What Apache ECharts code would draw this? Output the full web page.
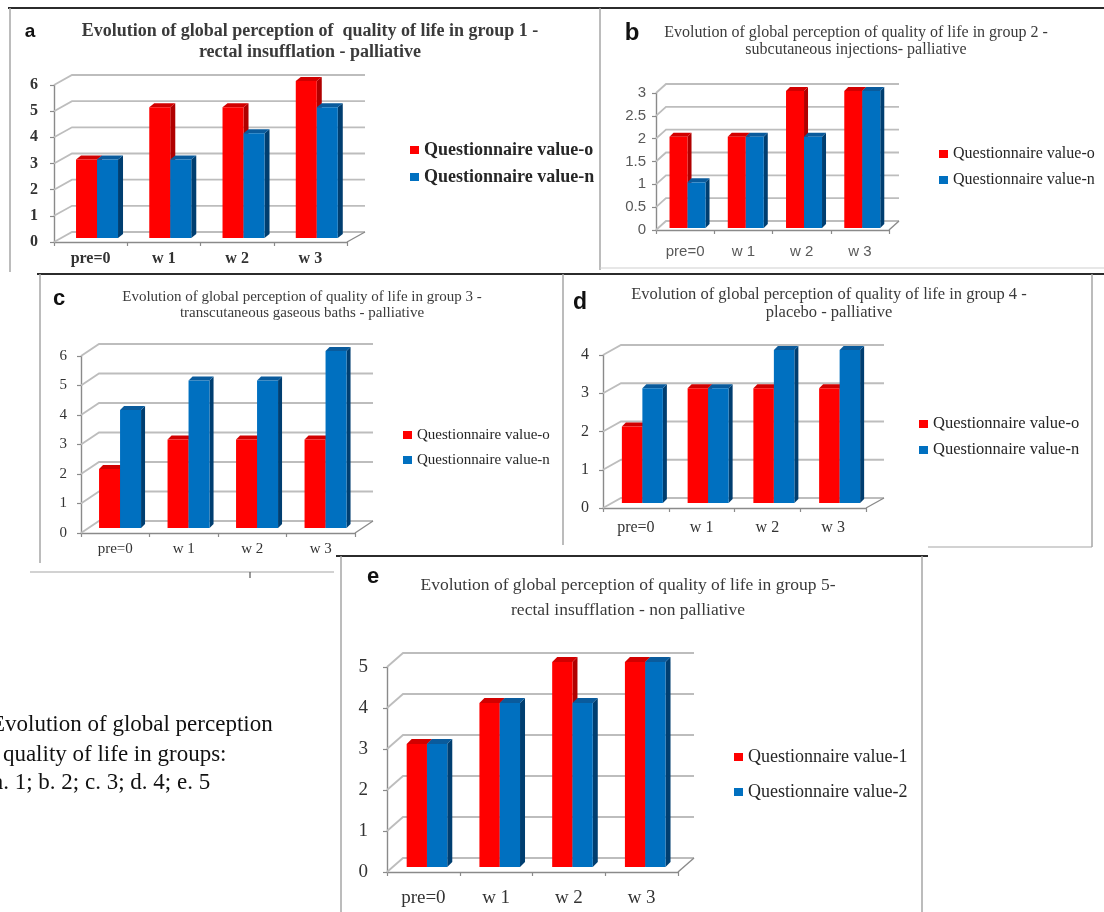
<!DOCTYPE html>
<html>
<head>
<meta charset="utf-8">
<title>Evolution of global perception of quality of life</title>
<script src="https://cdn.jsdelivr.net/npm/echarts@6/dist/echarts.min.js"></script>
<style>
  html, body { margin: 0; padding: 0; background: #fff; }
  #chart { width: 1104px; height: 912px; }
</style>
</head>
<body>
<div id="chart"></div>
<script>
// ---- data ----
const categories = ['pre=0', 'w 1', 'w 2', 'w 3'];

const group1ValueO = [3, 5, 5, 6];
const group1ValueN = [3, 3, 4, 5];
const group2ValueO = [2, 2, 3, 3];
const group2ValueN = [1, 2, 2, 3];
const group3ValueO = [2, 3, 3, 3];
const group3ValueN = [4, 5, 5, 6];
const group4ValueO = [2, 3, 3, 3];
const group4ValueN = [3, 3, 4, 4];
const group5Value1 = [3, 4, 5, 5];
const group5Value2 = [3, 4, 4, 5];

const namesPalliative = ['Questionnaire value-o', 'Questionnaire value-n'];
const namesGroup5 = ['Questionnaire value-1', 'Questionnaire value-2'];

const yTicks1 = [0, 1, 2, 3, 4, 5, 6];
const yTicks2 = [0, 0.5, 1, 1.5, 2, 2.5, 3];
const yTicks3 = [0, 1, 2, 3, 4, 5, 6];
const yTicks4 = [0, 1, 2, 3, 4];
const yTicks5 = [0, 1, 2, 3, 4, 5];

const title1 = 'Evolution of global perception of  quality of life in group 1 -\nrectal insufflation - palliative';
const title2 = 'Evolution of global perception of quality of life in group 2 -\nsubcutaneous injections- palliative';
const title3 = 'Evolution of global perception of quality of life in group 3 -\ntranscutaneous gaseous baths - palliative';
const title4 = 'Evolution of global perception of quality of life in group 4 -\nplacebo - palliative';
const title5 = 'Evolution of global perception of quality of life in group 5-\nrectal insufflation - non palliative';

const captionLines = [
  'Evolution of global perception',
  'of quality of life in groups:',
  'a. 1; b. 2; c. 3; d. 4; e. 5'
];

// ---- look ----
const SERIF = '"Liberation Serif", "Times New Roman", serif';
const SANS = '"Liberation Sans", Arial, sans-serif';
const faces = [
  { front: '#ff0000', side: '#b00000', top: '#d20000' },
  { front: '#0070c0', side: '#003e70', top: '#0a5b9c' }
];
const AXIS_COLOR = '#8a8a8a';
const WALL_COLOR = '#bdbdbd';

// layout of each small chart (front plane of the pseudo-3D box)
const panels = [
  {
    letter: 'a', letterPos: [30, 32], letterSize: 19,
    title: title1, titlePos: [310, 42], titleFont: { size: 18, weight: 'bold', lh: 21 },
    grid: { left: 54, top: 85, width: 293, height: 157 },
    ticks: yTicks1, values: [group1ValueO, group1ValueN], names: namesPalliative,
    wall: [18, 10], bar: { w: 21, sx: 6.4, sy: 4, dx: 5, dy: 4 },
    axisFont: { family: SERIF, size: 16, weight: 'bold', color: '#333' },
    yMargin: 16, xMargin: 9,
    legend: { left: 410, top: 150, gap: 27, size: 18, weight: 'bold' }
  },
  {
    letter: 'b', letterPos: [632, 33], letterSize: 24,
    title: title2, titlePos: [856, 41.5], titleFont: { size: 16, weight: 'normal', lh: 17 },
    grid: { left: 656, top: 93, width: 233, height: 137 },
    ticks: yTicks2, values: [group2ValueO, group2ValueN], names: namesPalliative,
    wall: [10, 9], bar: { w: 18, sx: 2.4, sy: 2, dx: 4, dy: 4 },
    axisFont: { family: SANS, size: 15, weight: 'normal', color: '#595959' },
    yMargin: 10, xMargin: 14,
    legend: { left: 939, top: 154, gap: 26, size: 16, weight: 'normal' }
  },
  {
    letter: 'c', letterPos: [59, 299], letterSize: 22,
    title: title3, titlePos: [302, 305], titleFont: { size: 15, weight: 'normal', lh: 16 },
    grid: { left: 81, top: 356, width: 274, height: 177 },
    ticks: yTicks3, values: [group3ValueO, group3ValueN], names: namesPalliative,
    wall: [18, 12], bar: { w: 21, sx: 4.8, sy: 5, dx: 4, dy: 4 },
    axisFont: { family: SERIF, size: 15, weight: 'normal', color: '#333' },
    yMargin: 14, xMargin: 9,
    legend: { left: 403, top: 435, gap: 25, size: 15, weight: 'normal' }
  },
  {
    letter: 'd', letterPos: [580, 303], letterSize: 23,
    title: title4, titlePos: [829, 304], titleFont: { size: 16.5, weight: 'normal', lh: 18 },
    grid: { left: 603, top: 355, width: 263, height: 153 },
    ticks: yTicks4, values: [group4ValueO, group4ValueN], names: namesPalliative,
    wall: [18, 10], bar: { w: 20.5, sx: 6.5, sy: 5, dx: 4, dy: 4 },
    axisFont: { family: SERIF, size: 16, weight: 'normal', color: '#333' },
    yMargin: 14, xMargin: 12,
    legend: { left: 919, top: 424, gap: 26, size: 16.5, weight: 'normal' }
  },
  {
    letter: 'e', letterPos: [373, 577], letterSize: 22,
    title: title5, titlePos: [628, 597.5], titleFont: { size: 17.5, weight: 'normal', lh: 25 },
    grid: { left: 387, top: 667, width: 291, height: 205 },
    ticks: yTicks5, values: [group5Value1, group5Value2], names: namesGroup5,
    wall: [16, 14], bar: { w: 20.3, sx: 3.6, sy: 5, dx: 5, dy: 5 },
    axisFont: { family: SERIF, size: 19, weight: 'normal', color: '#333' },
    yMargin: 19, xMargin: 17,
    legend: { left: 734, top: 757, gap: 35, size: 18, weight: 'normal' }
  }
];

// back wall and floor of a pseudo-3D column chart
function wallRenderer(dx, dy) {
  return function (params, api) {
    const v = api.value(1);
    const cs = params.coordSys;
    const y = api.coord([0, v])[1];
    const x0 = cs.x, x1 = cs.x + cs.width;
    const children = [{
      type: 'polyline',
      shape: { points: [[x0, y], [x0 + dx, y - dy], [x1 + dx, y - dy]] },
      style: { stroke: WALL_COLOR, lineWidth: 1.8, fill: null }
    }];
    if (v === 0) {
      children.push({
        type: 'line',
        shape: { x1: x1, y1: y, x2: x1 + dx, y2: y - dy },
        style: { stroke: AXIS_COLOR, lineWidth: 1.4 }
      });
    }
    return { type: 'group', children: children };
  };
}

// a column with front, side and top faces
function barRenderer(cfg, s) {
  const col = faces[s];
  return function (params, api) {
    const i = api.value(0), v = api.value(1);
    const p0 = api.coord([i, 0]);
    const p1 = api.coord([i, v]);
    const w = cfg.w, dx = cfg.dx, dy = cfg.dy;
    const x = p0[0] - w + cfg.sx + s * w;
    const yb = p0[1] - cfg.sy;
    const yt = p1[1] - cfg.sy;
    return {
      type: 'group',
      children: [
        { type: 'polygon', shape: { points: [[x + w, yt], [x + w + dx, yt - dy], [x + w + dx, yb - dy], [x + w, yb]] },
          style: { fill: col.side } },
        { type: 'polygon', shape: { points: [[x, yt], [x + dx, yt - dy], [x + w + dx, yt - dy], [x + w, yt]] },
          style: { fill: col.top } },
        { type: 'rect', shape: { x: x, y: yt, width: w, height: yb - yt },
          style: { fill: col.front } }
      ]
    };
  };
}

const grids = [], xAxes = [], yAxes = [], legends = [], series = [];

panels.forEach(function (p, k) {
  grids.push({ left: p.grid.left, top: p.grid.top, width: p.grid.width, height: p.grid.height });
  const f = p.axisFont;
  xAxes.push({
    type: 'category', gridIndex: k, data: categories, boundaryGap: true,
    axisLine: { show: true, lineStyle: { color: AXIS_COLOR, width: 1.4 } },
    axisTick: { show: true, length: 4, lineStyle: { color: AXIS_COLOR, width: 1.2 } },
    axisLabel: { margin: p.xMargin, color: f.color, fontFamily: f.family, fontSize: f.size, fontWeight: f.weight },
    splitLine: { show: false }
  });
  const t = p.ticks;
  yAxes.push({
    type: 'value', gridIndex: k, min: t[0], max: t[t.length - 1], interval: t[1] - t[0],
    axisLine: { show: true, lineStyle: { color: AXIS_COLOR, width: 1.4 } },
    axisTick: { show: true, length: 4, lineStyle: { color: AXIS_COLOR, width: 1.2 } },
    axisLabel: { margin: p.yMargin, color: f.color, fontFamily: f.family, fontSize: f.size, fontWeight: f.weight },
    splitLine: { show: false }
  });
  const L = p.legend;
  const lh = Math.round(L.size + 2);
  legends.push({
    orient: 'vertical', left: L.left, top: L.top - lh / 2,
    itemWidth: 9, itemHeight: 8, itemGap: L.gap - lh, icon: 'rect',
    selectedMode: false, padding: 0,
    data: p.names,
    textStyle: { fontFamily: SERIF, fontSize: L.size, fontWeight: L.weight, color: '#262626', lineHeight: lh }
  });
  series.push({
    type: 'custom', name: 'wall-' + p.letter, xAxisIndex: k, yAxisIndex: k, silent: true, z: 1,
    renderItem: wallRenderer(p.wall[0], p.wall[1]),
    data: t.map(function (v) { return [0, v]; })
  });
  p.values.forEach(function (vals, s) {
    series.push({
      type: 'custom', name: p.names[s], xAxisIndex: k, yAxisIndex: k, z: 3,
      itemStyle: { color: faces[s].front },
      renderItem: barRenderer(p.bar, s),
      data: vals.map(function (v, i) { return [i, v]; })
    });
  });
});

// panel frames, letters, titles and the caption
function hline(x1, x2, y, color, w) {
  return { type: 'line', shape: { x1: x1, y1: y, x2: x2, y2: y }, style: { stroke: color, lineWidth: w }, z: 0 };
}
function vline(x, y1, y2, color, w) {
  return { type: 'line', shape: { x1: x, y1: y1, x2: x, y2: y2 }, style: { stroke: color, lineWidth: w }, z: 0 };
}
const DARK = '#2b2b2b', FRAME = '#a6a6a6';
const graphics = [
  hline(8, 1104, 8, DARK, 2),
  vline(10, 8, 272, FRAME, 1.5),
  vline(600, 8, 270, FRAME, 1.5),
  hline(600, 1104, 268, '#cfcfcf', 1),
  hline(37, 1104, 274, DARK, 2),
  vline(40, 274, 563, FRAME, 1.5),
  hline(30, 334, 572, FRAME, 1.2),
  vline(250, 572, 578, '#555', 1.2),
  vline(563, 274, 545, FRAME, 1.5),
  vline(1092, 274, 547, FRAME, 1.5),
  hline(928, 1092, 547, FRAME, 1.2),
  { type: 'rect', shape: { x: 341, y: 556, width: 581, height: 356 }, style: { fill: '#fff' }, z: 0 },
  hline(336, 928, 556, DARK, 2),
  vline(341, 556, 912, FRAME, 1.5),
  vline(922, 556, 912, FRAME, 1.5)
];

panels.forEach(function (p) {
  graphics.push({
    type: 'text', x: p.letterPos[0], y: p.letterPos[1], z: 5,
    style: { text: p.letter, fontFamily: SANS, fontWeight: 'bold', fontSize: p.letterSize, fill: '#111',
      align: 'center', verticalAlign: 'middle', textAlign: 'center', textVerticalAlign: 'middle' }
  });
  graphics.push({
    type: 'text', x: p.titlePos[0], y: p.titlePos[1], z: 5,
    style: { text: p.title, fontFamily: SERIF, fontWeight: p.titleFont.weight, fontSize: p.titleFont.size,
      lineHeight: p.titleFont.lh, fill: '#3a3a3a',
      align: 'center', verticalAlign: 'middle', textAlign: 'center', textVerticalAlign: 'middle' }
  });
});

const captionX = [-9, -22, -7];
const captionY = [725, 755, 783];
captionLines.forEach(function (line, i) {
  graphics.push({
    type: 'text', x: captionX[i], y: captionY[i], z: 5,
    style: { text: line, fontFamily: SERIF, fontSize: 23, fill: '#111',
      align: 'left', verticalAlign: 'middle', textAlign: 'left', textVerticalAlign: 'middle' }
  });
});

const chart = echarts.init(document.getElementById('chart'), null, { renderer: 'canvas' });
chart.setOption({
  animation: false,
  backgroundColor: '#ffffff',
  grid: grids,
  xAxis: xAxes,
  yAxis: yAxes,
  legend: legends,
  graphic: { elements: graphics },
  series: series
});
</script>
</body>
</html>
